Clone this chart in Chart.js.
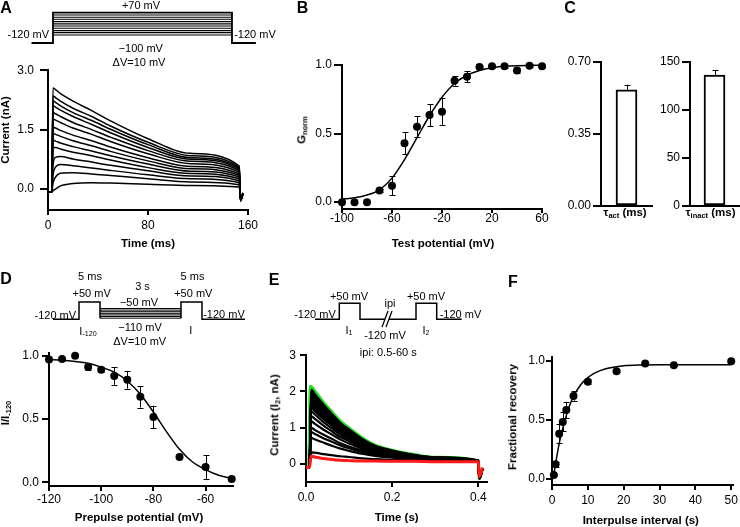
<!DOCTYPE html>
<html>
<head>
<meta charset="utf-8">
<title>Kv channel figure</title>
<script src="https://cdn.jsdelivr.net/npm/chart.js@4.4.1/dist/chart.umd.min.js"></script>
<style>
html,body{margin:0;padding:0;background:#fff;}
#wrap{position:relative;width:740px;height:527px;overflow:hidden;background:#fff;font-family:"Liberation Sans",Arial,Helvetica,sans-serif;color:#000;}
#wrap canvas{position:absolute;}
.t{position:absolute;white-space:nowrap;transform:translate(-50%,-50%);line-height:1;z-index:5;}
.lab{font-weight:bold;font-size:16px;}
.ax{font-weight:bold;font-size:11.5px;}
.pr{font-size:11px;}
.rot{transform:translate(-50%,-50%) rotate(-90deg);}
.t sub{font-size:65%;vertical-align:-0.25em;line-height:0;}
</style>
</head>
<body>
<div id="wrap"></div>
<script>
// ================= DATA =================
// Panel A: whole-cell current traces (nA) vs time (ms), one row per test potential
const A_TIME_MS = [0, 3, 4, 6, 10, 20, 35, 50, 80, 114, 153, 154, 156];
const A_CURRENT_NA = [
  [-0.08,-0.08,2.55,2.51,2.41,2.22,1.98,1.72,1.27,0.90,0.58,-0.30,-0.12],
  [-0.08,-0.08,2.35,2.31,2.22,2.04,1.83,1.59,1.18,0.84,0.55,-0.30,-0.12],
  [-0.08,-0.08,2.22,2.19,2.10,1.93,1.73,1.51,1.12,0.79,0.52,-0.30,-0.12],
  [-0.08,-0.08,2.10,2.07,1.99,1.83,1.63,1.42,1.05,0.75,0.49,-0.30,-0.12],
  [-0.08,-0.08,1.93,1.90,1.83,1.68,1.50,1.31,0.97,0.70,0.46,-0.30,-0.12],
  [-0.08,-0.08,1.77,1.74,1.68,1.54,1.38,1.20,0.89,0.64,0.42,-0.30,-0.12],
  [-0.08,-0.08,1.56,1.54,1.48,1.36,1.22,1.06,0.79,0.57,0.38,-0.28,-0.12],
  [-0.08,-0.08,1.40,1.38,1.33,1.22,1.09,0.95,0.71,0.51,0.34,-0.28,-0.12],
  [-0.08,-0.08,1.23,1.21,1.16,1.07,0.96,0.84,0.63,0.45,0.30,-0.27,-0.12],
  [-0.08,-0.08,1.05,1.05,1.01,0.93,0.84,0.73,0.54,0.39,0.26,-0.26,-0.12],
  [-0.08,-0.08,0.60,0.80,0.82,0.76,0.68,0.60,0.46,0.33,0.21,-0.25,-0.11],
  [-0.08,-0.08,0.35,0.55,0.62,0.59,0.53,0.47,0.36,0.26,0.16,-0.24,-0.11],
  [-0.08,-0.08,0.15,0.30,0.40,0.41,0.38,0.34,0.26,0.18,0.11,-0.22,-0.10],
  [-0.08,-0.08,-0.04,0.00,0.08,0.14,0.16,0.15,0.12,0.09,0.05,-0.20,-0.10]
];
const A_X_TICKS = [0, 80, 160];
const A_Y_TICKS = [0, 1.5, 3];

// Panel B: normalized conductance vs test potential
const B_TEST_MV = [-100,-90,-80,-70,-60,-50,-40,-30,-20,-10,0,10,20,30,40,50,60];
const B_GNORM = [0.0,0.0,0.0,0.085,0.12,0.43,0.55,0.635,0.66,0.885,0.915,0.985,0.99,0.99,0.96,0.995,0.99];
const B_GNORM_SEM = [0,0,0,0.01,0.07,0.08,0.075,0.08,0.10,0.035,0.04,0.01,0.01,0.01,0.015,0.01,0.01];
const B_FIT_MV = [-100,-90,-80,-70,-60,-50,-40,-30,-20,-10,0,10,20,30,40,50,60];
const B_FIT_GNORM = [0.022,0.032,0.052,0.09,0.175,0.31,0.47,0.63,0.765,0.865,0.925,0.96,0.98,0.99,0.995,0.997,0.998];
const B_X_TICKS = [-100, -60, -20, 20, 60];
const B_Y_TICKS = [0, 0.5, 1];

// Panel C: time constants
const C_TAU_ACT_MS = [0.565];
const C_TAU_ACT_SEM = [0.025];
const C_TAU_INACT_MS = [136.5];
const C_TAU_INACT_SEM = [4.7];
const C1_Y_TICKS = [0, 0.35, 0.7];
const C2_Y_TICKS = [0, 50, 100, 150];

// Panel D: steady-state inactivation
const D_PREPULSE_MV = [-120,-115,-110,-105,-100,-95,-90,-85,-80,-70,-60,-50];
const D_I_NORM = [0.97,0.975,1.0,0.91,0.89,0.84,0.81,0.675,0.515,0.20,0.12,0.025];
const D_I_SEM = [0,0,0,0.02,0.02,0.07,0.07,0.085,0.09,0.01,0.095,0];
const D_FIT_MV = [-120,-115,-110,-105,-100,-95,-90,-85,-80,-75,-70,-65,-60,-55,-50];
const D_FIT_I = [0.97,0.965,0.955,0.94,0.91,0.87,0.80,0.695,0.555,0.40,0.26,0.16,0.10,0.055,0.03];
const D_X_TICKS = [-120, -100, -80, -60];
const D_Y_TICKS = [0, 0.5, 1];

// Panel E: test-pulse currents (nA) vs time (s)
const E_TIME_S = [0,0.008,0.012,0.02,0.04,0.06,0.08,0.1,0.13,0.16,0.2,0.25,0.3,0.4,0.402,0.41];
const E_GREEN_TIME_S = [0,0.006,0.010,0.02,0.04,0.06,0.08,0.1,0.13,0.16,0.2,0.25,0.3,0.4,0.402,0.41];
const E_GREEN_NA = [-0.1,-0.1,2.14,2.02,1.71,1.44,1.18,0.99,0.72,0.52,0.38,0.26,0.18,0.09,-0.4,-0.12];
const E_RED_NA = [-0.1,-0.1,0.22,0.19,0.15,0.12,0.10,0.09,0.08,0.08,0.07,0.07,0.06,0.06,-0.35,-0.1];
const E_BLACK_NA = [
  [-0.1,-0.1,2.05,1.93,1.64,1.38,1.13,0.95,0.69,0.50,0.37,0.25,0.18,0.09,-0.4,-0.12],
  [-0.1,-0.1,1.98,1.87,1.58,1.33,1.10,0.92,0.67,0.49,0.36,0.24,0.18,0.09,-0.4,-0.12],
  [-0.1,-0.1,1.92,1.81,1.53,1.29,1.06,0.89,0.65,0.48,0.35,0.24,0.17,0.09,-0.4,-0.12],
  [-0.1,-0.1,1.86,1.75,1.49,1.25,1.03,0.86,0.63,0.46,0.34,0.23,0.17,0.09,-0.4,-0.12],
  [-0.1,-0.1,1.80,1.70,1.44,1.22,1.00,0.84,0.61,0.45,0.33,0.23,0.17,0.09,-0.4,-0.12],
  [-0.1,-0.1,1.74,1.64,1.39,1.18,0.97,0.81,0.59,0.44,0.32,0.22,0.16,0.09,-0.4,-0.12],
  [-0.1,-0.1,1.68,1.58,1.34,1.14,0.94,0.78,0.58,0.42,0.31,0.22,0.16,0.09,-0.4,-0.12],
  [-0.1,-0.1,1.61,1.52,1.29,1.09,0.90,0.75,0.55,0.41,0.30,0.21,0.16,0.09,-0.4,-0.12],
  [-0.1,-0.1,1.55,1.46,1.24,1.05,0.87,0.73,0.54,0.40,0.29,0.21,0.15,0.09,-0.4,-0.12],
  [-0.1,-0.1,1.45,1.37,1.16,0.98,0.81,0.68,0.50,0.37,0.28,0.20,0.15,0.09,-0.4,-0.12],
  [-0.1,-0.1,1.32,1.25,1.06,0.90,0.74,0.63,0.46,0.35,0.26,0.19,0.14,0.09,-0.4,-0.12],
  [-0.1,-0.1,1.18,1.11,0.95,0.81,0.67,0.56,0.42,0.32,0.24,0.17,0.14,0.09,-0.4,-0.12],
  [-0.1,-0.1,1.00,0.94,0.81,0.69,0.57,0.48,0.37,0.28,0.21,0.16,0.13,0.08,-0.4,-0.12],
  [-0.1,-0.1,0.88,0.83,0.71,0.61,0.51,0.43,0.33,0.25,0.20,0.15,0.12,0.08,-0.4,-0.12],
  [-0.1,-0.1,0.72,0.68,0.59,0.50,0.42,0.36,0.28,0.22,0.17,0.13,0.11,0.08,-0.4,-0.12],
  [-0.1,-0.1,0.32,0.31,0.27,0.24,0.21,0.19,0.15,0.13,0.11,0.10,0.09,0.08,-0.4,-0.12]
];
const E_X_TICKS = [0, 0.2, 0.4];
const E_Y_TICKS = [0, 1, 2, 3];

// Panel F: recovery from inactivation
const F_INTERVAL_S = [0.5,1,2,3,4,6,10,18,26,34,50];
const F_RECOVERY = [0.035,0.125,0.385,0.485,0.585,0.705,0.825,0.915,0.98,0.965,1.0];
const F_RECOVERY_SEM = [0.005,0.02,0.08,0.08,0.07,0.04,0.02,0.01,0.01,0.01,0.01];
const F_FIT_S = [0.3,1,2,3,4,5,6,8,10,12,15,20,25,30,40,50];
const F_FIT_R = [0.0,0.13,0.30,0.43,0.54,0.63,0.70,0.80,0.86,0.90,0.935,0.96,0.968,0.97,0.97,0.97];
const F_X_TICKS = [0, 10, 20, 30, 40, 50];
const F_Y_TICKS = [0, 0.5, 1];

// Voltage-protocol schematics (schematic time units, schematic level units; 0 = -120 mV holding)
const PA_OUTER_T = [-18, 0, 0, 150, 150, 170];
const PA_OUTER_L = [0, 0, 13.2, 13.2, 0, 0];
const PA_STEP_T = [0, 150];
const PA_STEP_LEVELS = [3.5, 4.5, 5.4, 6.4, 7.4, 8.3, 9.3, 10.3, 11.2, 12.2];
const PD_PRE_T = [0, 26, 26, 47, 47];
const PD_PRE_L = [0, 0, 7.5, 7.5, 0.5];
const PD_STACK_T = [47, 128];
const PD_STACK_LEVELS = [0.5, 1.2, 1.9, 2.6, 3.3, 4.0, 4.7];
const PD_POST_T = [128, 128, 149, 149, 192];
const PD_POST_L = [0.5, 7.5, 7.5, 0, 0];
const PE_P1_T = [0, 24.3, 24.3, 45, 45, 70];
const PE_P2_T = [74, 101, 101, 121.7, 121.7, 146.7];
const PE_PULSE_L = [0, 0, 7, 7, 0, 0];
const PE_BREAK1_T = [67, 73];
const PE_BREAK2_T = [71, 77];
const PE_BREAK_L = [-3.4, 3.6];

// ================= DRAWING =================
const wrap = document.getElementById('wrap');
const FONT = '"Liberation Sans", Arial, Helvetica, sans-serif';
Chart.defaults.font.family = FONT;
Chart.defaults.color = '#000';

function canvasFor(l, t, w, h) {
  const c = document.createElement('canvas');
  c.width = w; c.height = h;
  c.style.left = l + 'px'; c.style.top = t + 'px';
  c.style.width = w + 'px'; c.style.height = h + 'px';
  wrap.appendChild(c);
  return c;
}
const YW = 50, XH = 30, PT = 10;
function linY(min, max, ticks, dec, tl, pad) {
  return {type: 'linear', position: 'left', min, max, bounds: 'data',
    afterFit: s => { s.width = YW; },
    afterBuildTicks: s => { s.ticks = ticks.map(v => ({value: v})); },
    ticks: {callback: v => Number(v).toFixed(dec), font: {size: 12}, color: '#000', padding: pad, autoSkip: false, maxRotation: 0},
    grid: {display: true, drawOnChartArea: false, drawTicks: true, tickLength: tl, color: '#000', lineWidth: 2},
    border: {display: true, color: '#000', width: 2}};
}
function linX(min, max, ticks, dec, tl, pad) {
  return {type: 'linear', position: 'bottom', min, max, bounds: 'data',
    afterFit: s => { s.height = XH; },
    afterBuildTicks: s => { s.ticks = ticks.map(v => ({value: v})); },
    ticks: {callback: v => Number(v).toFixed(dec), font: {size: 12}, color: '#000', padding: pad, autoSkip: false, maxRotation: 0},
    grid: {display: true, drawOnChartArea: false, drawTicks: true, tickLength: tl, color: '#000', lineWidth: 2},
    border: {display: true, color: '#000', width: 2}};
}
function errBars(dsIndex, errs, cap, upOnly, after) {
  const draw = chart => {
    const meta = chart.getDatasetMeta(dsIndex);
    const ys = chart.scales.y;
    const data = chart.data.datasets[dsIndex].data;
    const ctx = chart.ctx;
    ctx.save(); ctx.strokeStyle = '#000'; ctx.lineWidth = 1;
    meta.data.forEach((el, i) => {
      const e = errs[i]; if (!e) return;
      const v = (typeof data[i] === 'object') ? data[i].y : data[i];
      const x = Math.round(el.x) + 0.5;
      const yT = ys.getPixelForValue(v + e);
      const yB = upOnly ? ys.getPixelForValue(v) : ys.getPixelForValue(v - e);
      ctx.beginPath();
      ctx.moveTo(x, yB); ctx.lineTo(x, yT);
      ctx.moveTo(x - cap / 2, Math.round(yT) + 0.5); ctx.lineTo(x + cap / 2, Math.round(yT) + 0.5);
      if (!upOnly) { ctx.moveTo(x - cap / 2, Math.round(yB) + 0.5); ctx.lineTo(x + cap / 2, Math.round(yB) + 0.5); }
      ctx.stroke();
    });
    ctx.restore();
  };
  return after ? {id: 'err' + dsIndex, afterDatasetsDraw: draw} : {id: 'err' + dsIndex, beforeDatasetsDraw: draw};
}
function baseOptions(padR, scales) {
  return {responsive: false, animation: false, events: [],
    layout: {padding: {top: PT, right: padR, left: 0, bottom: 0}},
    plugins: {legend: {display: false}, tooltip: {enabled: false}},
    scales};
}
function dataChart(area, padR, type, data, scales, plugins) {
  const w = area.r - area.l + YW + padR, h = area.b - area.t + PT + XH;
  const c = canvasFor(area.l - YW, area.t - PT, w, h);
  return new Chart(c, {type, data, options: baseOptions(padR, scales), plugins: plugins || []});
}
const pts = (xs, ys) => xs.map((x, i) => ({x, y: ys[i]}));
const lineDs = (xs, ys, color, width) => ({data: pts(xs, ys), showLine: true, pointRadius: 0,
  borderColor: color, borderWidth: width, cubicInterpolationMode: 'monotone', clip: false});
const dotDs = (xs, ys) => ({data: pts(xs, ys), showLine: false, pointRadius: 4, pointBorderWidth: 0,
  pointBackgroundColor: '#000', borderColor: '#000', backgroundColor: '#000', clip: false});

// ---- Panel A traces
dataChart({l: 48, r: 248, t: 67, b: 210}, 14, 'scatter',
  {datasets: A_CURRENT_NA.map(row => lineDs(A_TIME_MS, row, '#000', 1.5))},
  {x: linX(0, 160, A_X_TICKS, 0, 5, 3.5), y: linY(-0.53, 3, A_Y_TICKS, 1, 8, 6)});

// ---- Panel B
dataChart({l: 342, r: 542, t: 65, b: 209}, 14, 'scatter',
  {datasets: [dotDs(B_TEST_MV, B_GNORM), lineDs(B_FIT_MV, B_FIT_GNORM, '#000', 1.5)]},
  {x: linX(-100, 60, B_X_TICKS, 0, 4, -2), y: linY(-0.05, 1, B_Y_TICKS, 1, 8, 2)},
  [errBars(0, B_GNORM_SEM, 6, false, false)]);

// ---- Panel C bars
function barChart(area, padR, vals, errs, ymax, ticks, dec) {
  return dataChart(area, padR, 'bar',
    {labels: [''], datasets: [{data: vals, backgroundColor: '#fff', borderColor: '#000', borderWidth: 2,
      barThickness: 21, borderSkipped: false}]},
    {x: {type: 'category', position: 'bottom', afterFit: s => { s.height = XH; },
         ticks: {display: false}, grid: {display: false, drawTicks: false},
         border: {display: true, color: '#000', width: 2}},
     y: linY(0, ymax, ticks, dec, 8, 2)},
    [errBars(0, errs, 6, true, true)]);
}
barChart({l: 601, r: 652, t: 62, b: 206}, 2, C_TAU_ACT_MS, C_TAU_ACT_SEM, 0.7, C1_Y_TICKS, 2);
barChart({l: 690, r: 739, t: 62, b: 206}, 1, C_TAU_INACT_MS, C_TAU_INACT_SEM, 150, C2_Y_TICKS, 0);

// ---- Panel D
dataChart({l: 49, r: 233, t: 353, b: 486}, 14, 'scatter',
  {datasets: [dotDs(D_PREPULSE_MV, D_I_NORM), lineDs(D_FIT_MV, D_FIT_I, '#000', 1.5)]},
  {x: linX(-120, -49.5, D_X_TICKS, 0, 5, 1), y: linY(-0.03, 1.02, D_Y_TICKS, 1, 7, 3)},
  [errBars(0, D_I_SEM, 6, false, false)]);

// ---- Panel E (first dataset drawn on top)
const eSets = [lineDs(E_TIME_S, E_RED_NA, '#ff1a1a', 3)]
  .concat(E_BLACK_NA.map(row => lineDs(E_TIME_S, row, '#000', 2.2)))
  .concat([lineDs(E_GREEN_TIME_S, E_GREEN_NA, '#22dd22', 3)]);
dataChart({l: 306, r: 487, t: 354, b: 482}, 14, 'scatter', {datasets: eSets},
  {x: linX(0, 0.42, E_X_TICKS, 1, 5, 3.8), y: linY(-0.5, 3, E_Y_TICKS, 0, 6, 4)});

// ---- Panel F
dataChart({l: 552, r: 733, t: 357, b: 485}, 14, 'scatter',
  {datasets: [dotDs(F_INTERVAL_S, F_RECOVERY), lineDs(F_FIT_S, F_FIT_R, '#000', 1.5)]},
  {x: linX(0, 50.5, F_X_TICKS, 0, 5, 3.3), y: linY(-0.05, 1.035, F_Y_TICKS, 1, 6, 1)},
  [errBars(0, F_RECOVERY_SEM, 6, false, false)]);

// ---- Protocol schematics
function protoChart(l, t, w, h, xmin, xmax, ymin, ymax, lines) {
  const c = canvasFor(l, t, w, h);
  new Chart(c, {type: 'scatter',
    data: {datasets: lines.map(L => ({data: pts(L.t, L.v), showLine: true, pointRadius: 0,
      borderColor: '#000', borderWidth: L.w, clip: false}))},
    options: {responsive: false, animation: false, events: [], layout: {padding: 0},
      plugins: {legend: {display: false}, tooltip: {enabled: false}},
      scales: {x: {type: 'linear', display: false, min: xmin, max: xmax},
               y: {type: 'linear', display: false, min: ymin, max: ymax}}}});
}
protoChart(20, 0, 240, 70, -27.65, 173.47, -11.74, 18.70,
  [{t: PA_OUTER_T, v: PA_OUTER_L, w: 1.8}].concat(
    PA_STEP_LEVELS.map(L => ({t: PA_STEP_T, v: [L, L], w: 1.1}))));
protoChart(40, 265, 220, 80, -13, 207, -11.17, 23.61,
  [{t: PD_PRE_T, v: PD_PRE_L, w: 1.5}, {t: PD_POST_T, v: PD_POST_L, w: 1.5}].concat(
    PD_STACK_LEVELS.map(L => ({t: PD_STACK_T, v: [L, L], w: 1}))));
protoChart(300, 265, 180, 80, -15, 165, -11.17, 23.61,
  [{t: PE_P1_T, v: PE_PULSE_L, w: 1.5}, {t: PE_P2_T, v: PE_PULSE_L, w: 1.5},
   {t: PE_BREAK1_T, v: PE_BREAK_L, w: 1.3}, {t: PE_BREAK2_T, v: PE_BREAK_L, w: 1.3}]);

// ---- Text
const TEXTS = [
  ['A', 6, 7.5, 'lab'], ['B', 302.5, 8.3, 'lab'], ['C', 570, 8.3, 'lab'],
  ['D', 6, 279, 'lab'], ['E', 274, 280, 'lab'], ['F', 513, 282, 'lab'],
  ['+70 mV', 141, 4.5, 'pr'], ['-120 mV', 28.3, 34.3, 'pr'], ['-120 mV', 255, 34.3, 'pr'],
  ['\u2212100 mV', 140.8, 47.5, 'pr'], ['\u0394V=10 mV', 139, 61.5, 'pr'],
  ['Current (nA)', 6, 130, 'ax rot'], ['Time (ms)', 148, 243.5, 'ax'],
  ['G<sub>norm</sub>', 302, 130, 'ax rot'], ['Test potential (mV)', 443, 244, 'ax'],
  ['\u03c4<sub>act</sub> (ms)', 625, 213, 'ax'], ['\u03c4<sub>inact</sub> (ms)', 710.5, 213, 'ax'],
  ['5 ms', 90, 276.2, 'pr'], ['+50 mV', 91.7, 293.3, 'pr'], ['3 s', 142.5, 286, 'pr'],
  ['\u221250 mV', 139, 302, 'pr'], ['5 ms', 192.5, 276.2, 'pr'], ['+50 mV', 193.3, 293.3, 'pr'],
  ['-120 mV', 55.3, 314.5, 'pr'], ['-120 mV', 224, 314, 'pr'], ['I<sub>-120</sub>', 88, 331, 'pr'],
  ['\u2212110 mV', 140, 327, 'pr'], ['\u0394V=10 mV', 139.7, 340.5, 'pr'], ['I', 190.7, 330, 'pr'],
  ['I/I<sub>-120</sub>', 6, 413, 'ax rot'], ['Prepulse potential (mV)', 139, 517.5, 'ax'],
  ['+50 mV', 349, 296.2, 'pr'], ['+50 mV', 426, 296.2, 'pr'], ['ipi', 390, 302.8, 'pr'],
  ['-120 mV', 315, 314.2, 'pr'], ['-120 mV', 460.5, 314.2, 'pr'], ['-120 mV', 385, 335.3, 'pr'],
  ['I<sub>1</sub>', 349, 330, 'pr'], ['I<sub>2</sub>', 426, 330, 'pr'], ['ipi: 0.5-60 s', 388.3, 352.3, 'pr'],
  ['Current (I<sub>2</sub>, nA)', 275, 415, 'ax rot'], ['Time (s)', 396.7, 518, 'ax'],
  ['Fractional recovery', 513, 416.7, 'ax rot'], ['Interpulse interval (s)', 640.8, 520.8, 'ax']
];
TEXTS.forEach(([html, x, y, cls]) => {
  const d = document.createElement('div');
  d.className = 't ' + cls;
  d.innerHTML = html;
  d.style.left = x + 'px'; d.style.top = y + 'px';
  wrap.appendChild(d);
});
</script>
</body>
</html>
